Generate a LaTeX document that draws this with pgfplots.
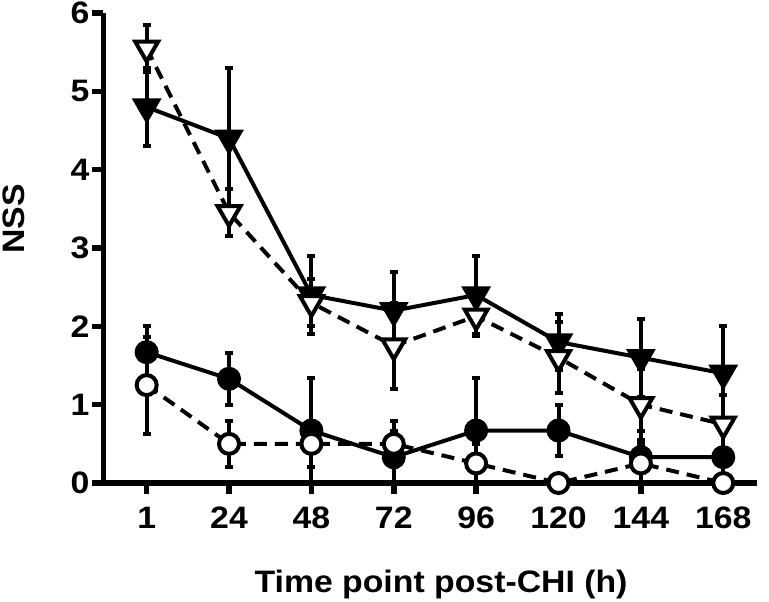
\documentclass[border=0pt]{standalone}
\usepackage{fontspec}
\setmainfont{Liberation Sans}[FakeStretch=1.09]
\usepackage{pgfplots}
\pgfplotsset{compat=1.18}
\begin{document}
\begin{tikzpicture}
\begin{axis}[
  at={(0,0)}, anchor=south west,
  scale only axis,
  width=326.75pt, height=235pt,
  xmin=-0.524, xmax=7.41,
  ymin=0, ymax=6,
  axis lines=left,
  axis line style={-, line width=2.8pt},
  every tick/.style={line width=2.8pt, black},
  tick align=outside,
  major tick length=5.5pt,
  xtick={0,1,2,3,4,5,6,7},
  xticklabels={1,24,48,72,96,120,144,168},
  ytick={0,1,2,3,4,5,6},
  /pgf/number format/assume math mode=true,
  tick label style={font=\fontsize{15.5}{18}\selectfont\bfseries},
  xticklabel style={yshift=-3pt},
  yticklabel style={xshift=2pt},
  label style={font=\fontsize{15.5}{18}\selectfont\bfseries},
  xlabel={Time point post-CHI (h)},
  ylabel={NSS},
  xlabel style={at={(axis description cs:0.5165,-0.2332)}, anchor=base},
  ylabel style={at={(axis description cs:-0.137,0.562)}, anchor=center, rotate=0},
  clip=false,
  error bars/error bar style={line width=2pt, solid, black},
  error bars/error mark options={rotate=90, mark size=2pt, line width=2pt, solid, black},
]
% filled triangles, solid
\addplot[black, solid, line width=2pt, mark=triangle*, mark options={rotate=180, fill=black, solid, mark size=6.6pt},
  error bars/.cd, y dir=both, y explicit]
  coordinates {
  (0,4.8) +- (0,0.5)
  (1,4.4) +- (0,0.9)
  (2,2.4) +- (0,0.5)
  (3,2.2) +- (0,0.5)
  (4,2.4) +- (0,0.5)
  (5,1.8) +- (0,0.36)
  (6,1.6) +- (0,0.5)
  (7,1.4) +- (0,0.6)
  };
% filled circles, solid
\addplot[black, solid, line width=2pt, mark=*, mark options={fill=black, solid, mark size=5pt},
  error bars/.cd, y dir=both, y explicit]
  coordinates {
  (0,1.67) +- (0,0.33)
  (1,1.33) +- (0,0.33)
  (2,0.67) +- (0,0.67)
  (3,0.33) +- (0,0.33)
  (4,0.67) +- (0,0.67)
  (5,0.67) +- (0,0.33)
  (6,0.33) +- (0,0.33)
  (7,0.33) +- (0,0.33)
  };
% open triangles, dashed
\addplot[black, line width=2pt, dash pattern=on 6.5pt off 4pt, mark=triangle*, mark options={rotate=180, fill=white, solid, mark size=6.6pt},
  error bars/.cd, y dir=both, y explicit]
  coordinates {
  (0,5.55) +- (0,0.3)
  (1,3.45) +- (0,0.3)
  (2,2.3) +- (0,0.3)
  (3,1.75) +- (0,0.55)
  (4,2.13) +- (0,0.25)
  (5,1.6) +- (0,0.45)
  (6,1.0) +- (0,0.45)
  (7,0.75) +- (0,0.37)
  };
% open circles, dashed
\addplot[black, line width=2pt, dash pattern=on 6.5pt off 4pt, mark=*, mark options={fill=white, solid, mark size=5pt},
  error bars/.cd, y dir=both, y explicit]
  coordinates {
  (0,1.25) +- (0,0.62)
  (1,0.5) +- (0,0.29)
  (2,0.5) +- (0,0.29)
  (3,0.5) +- (0,0.29)
  (4,0.25) +- (0,0.25)
  (5,0) +- (0,0)
  (6,0.25) +- (0,0.25)
  (7,0) +- (0,0)
  };
\end{axis}
\pgfresetboundingbox
\path (-51.75pt,-59pt) rectangle (332.75pt,241.5pt);
\end{tikzpicture}
\end{document}
